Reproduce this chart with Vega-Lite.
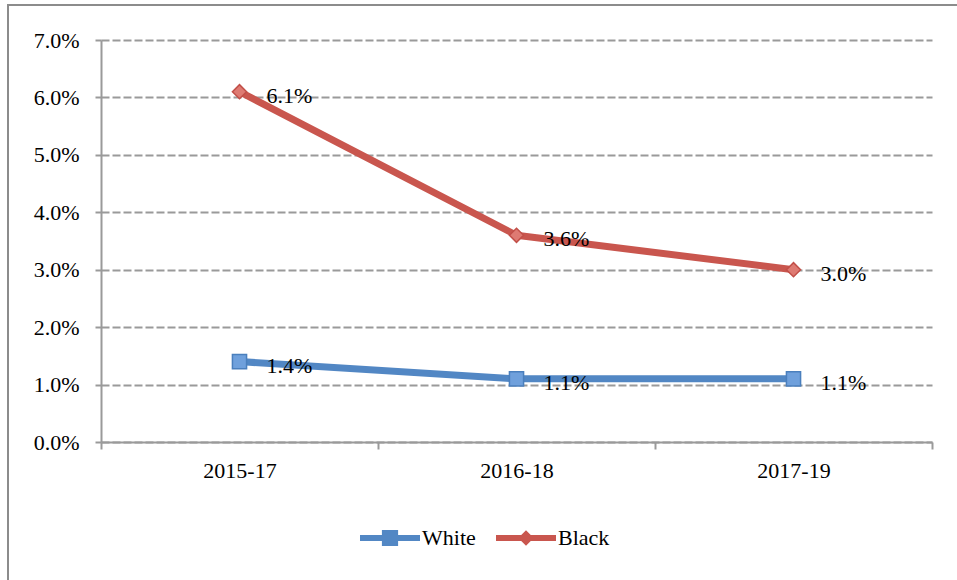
{
  "$schema": "https://vega.github.io/schema/vega-lite/v6.json",
  "autosize": {"type": "none"},
  "padding": {"left": 8, "top": 5, "right": 0, "bottom": 0},
  "width": 955,
  "height": 585,
  "background": "white",
  "config": {
    "view": {"stroke": "#8c8c8c", "strokeWidth": 2},
    "font": "Liberation Serif",
    "axis": {
      "labelFont": "Liberation Serif",
      "labelFontSize": 22,
      "labelColor": "#000000",
      "domainColor": "#9a9a9a",
      "domainWidth": 2,
      "tickColor": "#9a9a9a",
      "tickWidth": 2,
      "title": null
    }
  },
  "data": {
    "values": [
      {"period": "2015-17", "group": "White", "rate": 0.014},
      {"period": "2016-18", "group": "White", "rate": 0.011},
      {"period": "2017-19", "group": "White", "rate": 0.011},
      {"period": "2015-17", "group": "Black", "rate": 0.061},
      {"period": "2016-18", "group": "Black", "rate": 0.036},
      {"period": "2017-19", "group": "Black", "rate": 0.030}
    ]
  },
  "encoding": {
    "x": {
      "field": "period",
      "type": "nominal",
      "sort": ["2015-17", "2016-18", "2017-19"],
      "scale": {"type": "band", "range": [93, 924], "paddingInner": 0, "paddingOuter": 0},
      "axis": {
        "orient": "bottom",
        "offset": -148,
        "labelAngle": 0,
        "tickBand": "extent",
        "tickSize": 7,
        "labelPadding": 11,
        "grid": false
      }
    },
    "y": {
      "field": "rate",
      "type": "quantitative",
      "scale": {"domain": [0, 0.07], "range": [437, 35], "nice": false, "zero": true},
      "axis": {
        "orient": "left",
        "offset": -93,
        "values": [0, 0.01, 0.02, 0.03, 0.04, 0.05, 0.06, 0.07],
        "format": ".1%",
        "tickSize": 6,
        "labelPadding": 16,
        "grid": true,
        "gridColor": "#9a9a9a",
        "gridWidth": 2,
        "gridDash": [8, 3]
      }
    }
  },
  "layer": [
    {
      "mark": {"type": "line", "strokeWidth": 7, "strokeCap": "round", "strokeJoin": "round"},
      "encoding": {
        "color": {
          "field": "group",
          "type": "nominal",
          "scale": {"domain": ["White", "Black"], "range": ["#5287c4", "#c9564e"]},
          "legend": {
            "orient": "none",
            "legendX": 352,
            "legendY": 503,
            "direction": "horizontal",
            "title": null,
            "padding": 0,
            "symbolSize": 3600,
            "labelFont": "Liberation Serif",
            "labelFontSize": 22,
            "labelColor": "#000000",
            "labelOffset": 2,
            "columnPadding": 20,
            "encode": {
              "symbols": {
                "update": {
                  "shape": {"signal": "datum.value === 'White' ? 'M-1,-0.1H1V0.1H-1Z M-0.27,-0.27H0.27V0.27H-0.27Z' : 'M-1,-0.1H1V0.1H-1Z M0,-0.26L0.26,0L0,0.26L-0.26,0Z'"},
                  "fill": {"signal": "datum.value === 'White' ? '#5287c4' : '#c9564e'"},
                  "stroke": {"value": "transparent"},
                  "strokeWidth": {"value": 0},
                  "opacity": {"value": 1}
                }
              }
            }
          }
        }
      }
    },
    {
      "transform": [{"filter": "datum.group === 'White'"}],
      "mark": {"type": "point", "shape": "square", "filled": true, "size": 200, "opacity": 1, "fill": "#6fa0dc", "stroke": "#4a7fbd", "strokeWidth": 1.5}
    },
    {
      "transform": [{"filter": "datum.group === 'Black'"}],
      "mark": {"type": "point", "shape": "diamond", "filled": true, "size": 200, "opacity": 1, "fill": "#de7a72", "stroke": "#c24f48", "strokeWidth": 1.5}
    },
    {
      "mark": {"type": "text", "align": "left", "baseline": "middle", "dx": 27, "dy": 4, "fontSize": 22, "font": "Liberation Serif", "color": "#000000"},
      "encoding": {
        "text": {"field": "rate", "type": "quantitative", "format": ".1%"}
      }
    }
  ]
}
